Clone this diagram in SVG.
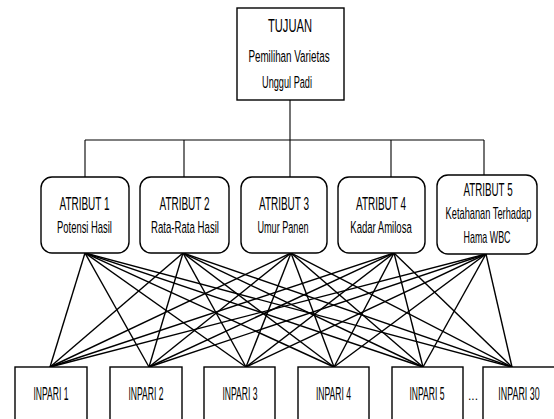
<svg xmlns="http://www.w3.org/2000/svg" width="554" height="419" viewBox="0 0 554 419">
<style>
.box{fill:#fff;stroke:#000;stroke-width:1.4}
.t{font-family:"Liberation Sans",Arial,sans-serif;font-size:18.5px;fill:#000;text-anchor:middle}
.s{font-size:17px}
.n{font-size:17.5px}
.c line{stroke:#000;stroke-width:1.4}
.tree line{stroke:#000;stroke-width:1.1}
</style>
<rect width="554" height="419" fill="#fff"/>
<g class="tree" id="tree-connectors">
<line x1="290" y1="100" x2="290" y2="177"/>
<line x1="85" y1="140" x2="484" y2="140"/>
<line x1="85" y1="140" x2="85" y2="177"/>
<line x1="184" y1="140" x2="184" y2="177"/>
<line x1="391" y1="140" x2="391" y2="177"/>
<line x1="484" y1="140" x2="484" y2="175"/>
</g>
<g class="c" id="connectors">
<line x1="85" y1="253" x2="50" y2="367"/><line x1="85" y1="253" x2="149" y2="367"/><line x1="85" y1="253" x2="246" y2="367"/><line x1="85" y1="253" x2="334" y2="367"/><line x1="85" y1="253" x2="423" y2="367"/><line x1="85" y1="253" x2="512" y2="367"/>
<line x1="183" y1="253" x2="50" y2="367"/><line x1="183" y1="253" x2="149" y2="367"/><line x1="183" y1="253" x2="246" y2="367"/><line x1="183" y1="253" x2="334" y2="367"/><line x1="183" y1="253" x2="423" y2="367"/><line x1="183" y1="253" x2="512" y2="367"/>
<line x1="291" y1="253" x2="50" y2="367"/><line x1="291" y1="253" x2="149" y2="367"/><line x1="291" y1="253" x2="246" y2="367"/><line x1="291" y1="253" x2="334" y2="367"/><line x1="291" y1="253" x2="423" y2="367"/><line x1="291" y1="253" x2="512" y2="367"/>
<line x1="394" y1="253" x2="50" y2="367"/><line x1="394" y1="253" x2="149" y2="367"/><line x1="394" y1="253" x2="246" y2="367"/><line x1="394" y1="253" x2="334" y2="367"/><line x1="394" y1="253" x2="423" y2="367"/><line x1="394" y1="253" x2="512" y2="367"/>
<line x1="486" y1="254" x2="50" y2="367"/><line x1="486" y1="254" x2="149" y2="367"/><line x1="486" y1="254" x2="246" y2="367"/><line x1="486" y1="254" x2="334" y2="367"/><line x1="486" y1="254" x2="423" y2="367"/><line x1="486" y1="254" x2="512" y2="367"/>
</g>
<g id="tujuan">
<rect class="box" x="237" y="8" width="107" height="92"/>
<text class="t" transform="translate(290 32) scale(0.603 1)">TUJUAN</text>
<text class="t s" transform="translate(289 62) scale(0.579 1)">Pemilihan Varietas</text>
<text class="t s" transform="translate(287 88) scale(0.54 1)">Unggul Padi</text>
</g>
<g id="atribut1">
<rect class="box" x="41" y="177" width="88" height="76" rx="11"/>
<text class="t" transform="translate(84.5 210) scale(0.539 1)">ATRIBUT 1</text>
<text class="t s" transform="translate(84.5 233) scale(0.554 1)">Potensi Hasil</text>
</g>
<g id="atribut2">
<rect class="box" x="140" y="177" width="89" height="76" rx="11"/>
<text class="t" transform="translate(184.5 210) scale(0.539 1)">ATRIBUT 2</text>
<text class="t s" transform="translate(185 233) scale(0.567 1)">Rata-Rata Hasil</text>
</g>
<g id="atribut3">
<rect class="box" x="241" y="177" width="86" height="76" rx="11"/>
<text class="t" transform="translate(284 210) scale(0.539 1)">ATRIBUT 3</text>
<text class="t s" transform="translate(283 233) scale(0.535 1)">Umur Panen</text>
</g>
<g id="atribut4">
<rect class="box" x="338" y="177" width="87" height="76" rx="11"/>
<text class="t" transform="translate(381 210) scale(0.539 1)">ATRIBUT 4</text>
<text class="t s" transform="translate(381 233) scale(0.561 1)">Kadar Amilosa</text>
</g>
<g id="atribut5">
<rect class="box" x="437" y="175" width="100" height="79" rx="11"/>
<text class="t" transform="translate(488 196) scale(0.53 1)">ATRIBUT 5</text>
<text class="t s" transform="translate(488.5 219) scale(0.545 1)">Ketahanan Terhadap</text>
<text class="t s" transform="translate(487 243) scale(0.524 1)">Hama WBC</text>
</g>
<g id="inpari1">
<rect class="box" x="15" y="367" width="72" height="60"/>
<text class="t n" transform="translate(51 400) scale(0.49 1)">INPARI 1</text>
</g>
<g id="inpari2">
<rect class="box" x="110" y="367" width="72" height="60"/>
<text class="t n" transform="translate(146 400) scale(0.49 1)">INPARI 2</text>
</g>
<g id="inpari3">
<rect class="box" x="204" y="367" width="71" height="60"/>
<text class="t n" transform="translate(240 400) scale(0.49 1)">INPARI 3</text>
</g>
<g id="inpari4">
<rect class="box" x="298" y="367" width="71" height="60"/>
<text class="t n" transform="translate(333.5 400) scale(0.49 1)">INPARI 4</text>
</g>
<g id="inpari5">
<rect class="box" x="392" y="367" width="71" height="60"/>
<text class="t n" transform="translate(427 400) scale(0.49 1)">INPARI 5</text>
</g>
<text class="t" x="473" y="400" style="font-size:12px">...</text>
<g id="inpari30">
<rect class="box" x="483" y="367" width="72" height="60"/>
<text class="t n" transform="translate(519 400) scale(0.508 1)">INPARI 30</text>
</g>
</svg>
